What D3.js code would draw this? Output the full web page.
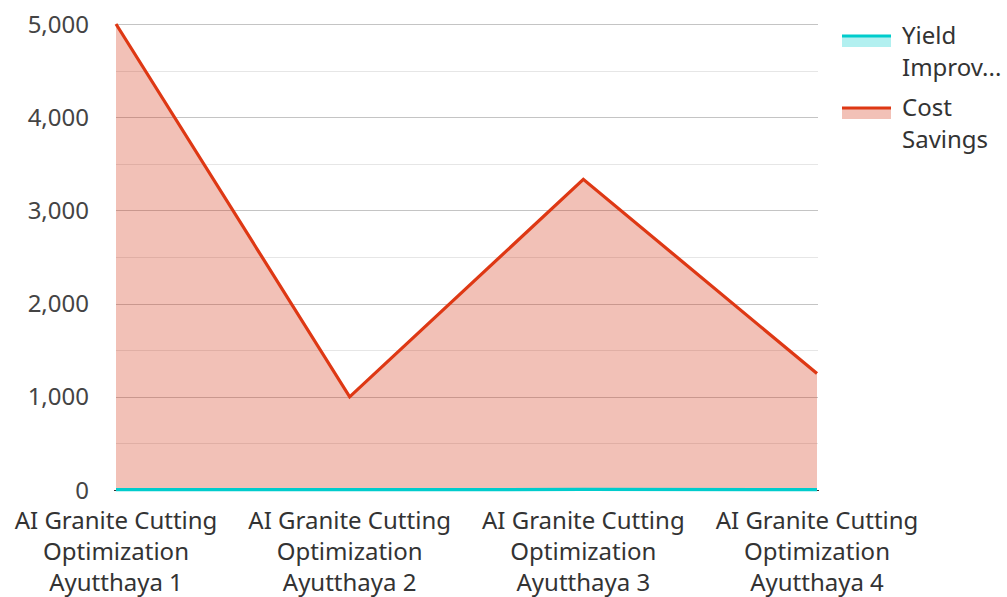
<!DOCTYPE html>
<html><head><meta charset="utf-8">
<script src="https://cdn.jsdelivr.net/npm/d3@7"></script>
<style>
html,body{margin:0;padding:0;background:#fff;}
text{font-family:"Noto Sans",sans-serif;}
</style></head>
<body>
<svg id="chart" width="1007" height="597"></svg>
<script>
const categories = ["AI Granite Cutting Optimization Ayutthaya 1","AI Granite Cutting Optimization Ayutthaya 2","AI Granite Cutting Optimization Ayutthaya 3","AI Granite Cutting Optimization Ayutthaya 4"];
const categoryLines = [["AI Granite Cutting","Optimization","Ayutthaya 1"],["AI Granite Cutting","Optimization","Ayutthaya 2"],["AI Granite Cutting","Optimization","Ayutthaya 3"],["AI Granite Cutting","Optimization","Ayutthaya 4"]];
const yieldImprovement = [5, 3, 6, 4];
const costSavings = [5000, 1000, 3333, 1250];
const yTicks = [0, 1000, 2000, 3000, 4000, 5000];
const yMinorTicks = [500, 1500, 2500, 3500, 4500];
const legendNames = [["Yield","Improv..."],["Cost","Savings"]];

const svg = d3.select("#chart");
const x = d3.scalePoint().domain(categories).range([116, 817]);
const y = d3.scaleLinear().domain([0, 5000]).range([490, 24]);

// grid
svg.append("g").selectAll("line").data(yMinorTicks).join("line")
  .attr("x1",116).attr("x2",818).attr("y1",d=>Math.round(y(d))+0.5).attr("y2",d=>Math.round(y(d))+0.5)
  .attr("stroke","#e6e6e6").attr("stroke-width",1);
svg.append("g").selectAll("line").data(yTicks.filter(d=>d>0)).join("line")
  .attr("x1",116).attr("x2",818).attr("y1",d=>Math.round(y(d))+0.5).attr("y2",d=>Math.round(y(d))+0.5)
  .attr("stroke","#c4c4c4").attr("stroke-width",1);

const series = [
  {vals: yieldImprovement, line:"#00CCCC", fill:"rgb(0,204,204)"},
  {vals: costSavings, line:"#DE3814", fill:"rgb(212,50,18)"}
];
[series[1], series[0]].forEach(s=>{
  const area = d3.area().x((d,i)=>x(categories[i])).y0(y(0)).y1(d=>y(d));
  const line = d3.line().x((d,i)=>x(categories[i])).y(d=>y(d));
  svg.append("path").datum(s.vals).attr("d",area).attr("fill",s.fill).attr("fill-opacity",0.3);
  svg.append("path").datum(s.vals).attr("d",line).attr("fill","none").attr("stroke",s.line).attr("stroke-width",3.2).attr("stroke-linejoin","miter");
});

// axis end ticks
svg.append("line").attr("x1",114).attr("x2",116).attr("y1",490.5).attr("y2",490.5).attr("stroke","#333");
svg.append("line").attr("x1",817).attr("x2",819).attr("y1",490.5).attr("y2",490.5).attr("stroke","#333");

// y labels
svg.append("g").selectAll("text").data(yTicks).join("text")
  .attr("x",89).attr("y",d=>y(d)+8.5).attr("text-anchor","end")
  .attr("font-size",24).attr("fill","#444")
  .text(d=>d3.format(",")(d));

// x labels
const xl = svg.append("g").selectAll("text").data(categories).join("text")
  .attr("text-anchor","middle").attr("font-size",24).attr("fill","#333");
xl.each(function(d,i){
  const t = d3.select(this);
  categoryLines[i].forEach((ln,j)=>{
    t.append("tspan").attr("x",x(d)).attr("y",529+j*31).text(ln);
  });
});

// legend
const lg = svg.append("g");
series.forEach((s,i)=>{
  const top = 35 + i*72;
  lg.append("rect").attr("x",842).attr("y",top).attr("width",49).attr("height",12).attr("fill",s.fill).attr("fill-opacity",0.3);
  lg.append("line").attr("x1",842).attr("x2",891).attr("y1",top+1).attr("y2",top+1).attr("stroke",s.line).attr("stroke-width",3);
  legendNames[i].forEach((ln,j)=>{
    lg.append("text").attr("x",902).attr("y",top+9+j*32).attr("font-size",24).attr("fill","#333").text(ln);
  });
});
</script>
</body></html>
